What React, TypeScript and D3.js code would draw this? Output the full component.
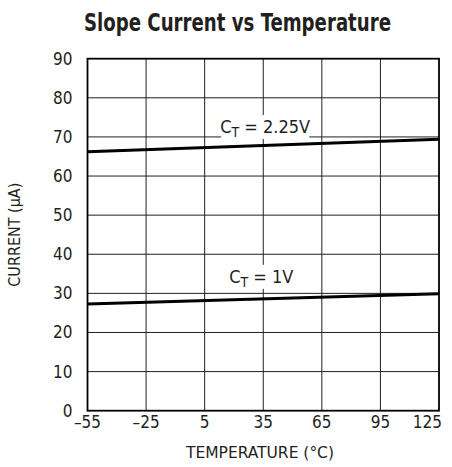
import React from "react";
import * as d3 from "d3";

const temps = [-55, 125];
const current225 = [66.2, 69.4];
const current1 = [27.3, 29.9];
const xTicks = [-55, -25, 5, 35, 65, 95, 125];
const yTicks = [0, 10, 20, 30, 40, 50, 60, 70, 80, 90];
const seriesLabels = ["2.25V", "1V"];
const labelAnchors = [
  { t: 36, v: 71.0 },
  { t: 34, v: 32.7 },
];

const W = 452;
const H = 467;
const left = 87.5;
const right = 439;
const top = 58.7;
const bottom = 410.7;
const FONT = "'Liberation Sans Narrow', 'DejaVu Sans Condensed', 'Roboto Condensed', Arial, sans-serif";

export default function App() {
  const x = d3.scaleLinear().domain([-55, 125]).range([left, right]);
  const y = d3.scaleLinear().domain([0, 90]).range([bottom, top]);
  const line = d3
    .line<[number, number]>()
    .x((d) => x(d[0]))
    .y((d) => y(d[1]));
  const series = [current225, current1].map((vals) =>
    temps.map((t, i) => [t, vals[i]] as [number, number])
  );

  return (
    <svg
      width={W}
      height={H}
      style={{ position: "absolute", left: 0, top: 0, background: "#fff" }}
      fontFamily={FONT}
    >
      <rect x={0} y={0} width={W} height={H} fill="#fff" />
      <text
        x={237.5}
        y={31}
        textAnchor="middle"
        fontSize={25}
        fontWeight="bold"
        fill="#231f20"
        textLength={307}
        lengthAdjust="spacingAndGlyphs"
      >
        Slope Current vs Temperature
      </text>
      {/* grid */}
      <g stroke="#231f20" strokeWidth={1}>
        {xTicks.slice(1, -1).map((t) => (
          <line key={"gx" + t} x1={x(t)} x2={x(t)} y1={top} y2={bottom} />
        ))}
        {yTicks.slice(1, -1).map((v) => (
          <line key={"gy" + v} x1={left} x2={right} y1={y(v)} y2={y(v)} />
        ))}
      </g>
      {/* series */}
      {series.map((s, i) => (
        <path key={"s" + i} d={line(s) || ""} fill="none" stroke="#000" strokeWidth={3} />
      ))}
      {/* labels */}
      {labelAnchors.map((a, i) => {
        const cx = x(a.t);
        const cy = y(a.v);
        const w = i === 0 ? 88 : 60;
        return (
          <g key={"lab" + i}>
            <rect x={cx - w / 2} y={cy - 18} width={w} height={24} fill="#fff" />
            <text
              x={cx}
              y={cy}
              textAnchor="middle"
              fontSize={18}
              fill="#231f20"
            >
              C
              <tspan fontSize={14} dy={4}>T</tspan>
              <tspan dy={-4}>{" = " + seriesLabels[i]}</tspan>
            </text>
          </g>
        );
      })}
      {/* frame */}
      <rect
        x={left}
        y={top}
        width={right - left}
        height={bottom - top}
        fill="none"
        stroke="#000"
        strokeWidth={1.8}
      />
      {/* y ticks */}
      {yTicks.map((v) => (
        <text
          key={"yt" + v}
          x={left - 15}
          y={y(v)}
          dy="0.35em"
          textAnchor="end"
          fontSize={17}
          fill="#231f20"
        >
          {v}
        </text>
      ))}
      {xTicks.map((t, i) => {
        const last = i === xTicks.length - 1;
        return (
          <text
            key={"xt" + t}
            x={last ? x(t) + 3 : x(t)}
            y={bottom + 17}
            textAnchor={last ? "end" : "middle"}
            fontSize={17}
            fill="#231f20"
          >
            {t < 0 ? "\u2013" + Math.abs(t) : String(t)}
          </text>
        );
      })}
      <text
        x={260}
        y={458}
        textAnchor="middle"
        fontSize={16}
        fill="#231f20"
        textLength={148}
        lengthAdjust="spacingAndGlyphs"
      >
        TEMPERATURE (°C)
      </text>
      <text
        transform={`translate(20, ${(top + bottom) / 2}) rotate(-90)`}
        textAnchor="middle"
        fontSize={16}
        fill="#231f20"
      >
        CURRENT (μA)
      </text>
    </svg>
  );
}
